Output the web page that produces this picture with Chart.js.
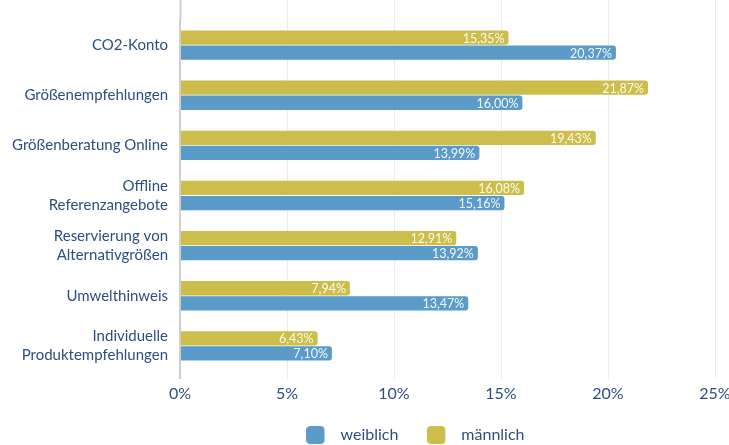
<!DOCTYPE html>
<html><head><meta charset="utf-8">
<script src="https://cdn.jsdelivr.net/npm/chart.js@4/dist/chart.umd.min.js"></script>
<style>html,body{margin:0;padding:0;background:#fff}#wrap{width:729px;height:445px}</style>
</head><body><div id="wrap"><canvas id="c" width="729" height="445"></canvas></div>
<script>
const categories = ["CO2-Konto","Größenempfehlungen","Größenberatung Online",["Offline","Referenzangebote"],["Reservierung von","Alternativgrößen"],"Umwelthinweis",["Individuelle","Produktempfehlungen"]];
const maennlich = [15.35,21.87,19.43,16.08,12.91,7.94,6.43];
const weiblich = [20.37,16.00,13.99,15.16,13.92,13.47,7.10];
const xTicks = [0,5,10,15,20,25];

const FONT = "Lato, 'Noto Sans', sans-serif";
const TXT = '#2d4f80';
const COL_M = '#cdbe4b', COL_W = '#5b9bc9';

function legendSwatch(color){
  const c = document.createElement('canvas');
  c.width = 26; c.height = 18;
  const g = c.getContext('2d');
  g.fillStyle = color;
  g.beginPath();
  if (g.roundRect) g.roundRect(0,0,18,18,4); else g.rect(0,0,18,18);
  g.fill();
  return c;
}

const valueLabels = {
  id:'valueLabels',
  afterDatasetsDraw(chart){
    const ctx = chart.ctx;
    ctx.save();
    ctx.font = "12.5px " + FONT;
    ctx.fillStyle = 'rgba(255,255,255,0.92)';
    ctx.textAlign = 'right';
    ctx.textBaseline = 'middle';
    chart.data.datasets.forEach((ds,i)=>{
      chart.getDatasetMeta(i).data.forEach((el,j)=>{
        const t = ds.data[j].toFixed(2).replace('.',',') + '%';
        ctx.fillText(t, el.x - 4, el.y + 1);
      });
    });
    ctx.restore();
  }
};
const gridTop = {
  id:'gridTop',
  beforeDatasetsDraw(chart){
    const ctx = chart.ctx, xs = chart.scales.x, a = chart.chartArea;
    ctx.save();
    xTicks.forEach((v,i)=>{
      const x = Math.round(xs.getPixelForValue(v)) + 0.5;
      ctx.strokeStyle = i===0 ? '#cfcfcf' : '#ececec';
      ctx.lineWidth = i===0 ? 2 : 1;
      ctx.beginPath(); ctx.moveTo(x,0); ctx.lineTo(x,a.top); ctx.stroke();
    });
    ctx.restore();
  }
};
const layoutTweak = {
  id:'layoutTweak',
  afterLayout(chart){
    const l = chart.legend;
    if (l && !l._shifted){ l.left += 58; l.right += 58; l._shifted = true; }
    chart.scales.x.bottom = chart.height;
  }
};

new Chart(document.getElementById('c'),{
  type:'bar',
  data:{
    labels:categories,
    datasets:[
      {label:'männlich',data:maennlich,backgroundColor:COL_M,borderRadius:3,borderSkipped:'start',barPercentage:0.95,categoryPercentage:0.6,pointStyle:legendSwatch(COL_M)},
      {label:'weiblich',data:weiblich,backgroundColor:COL_W,borderRadius:3,borderSkipped:'start',barPercentage:0.95,categoryPercentage:0.6,pointStyle:legendSwatch(COL_W)}
    ]
  },
  options:{
    indexAxis:'y',
    responsive:false,
    animation:false,
    layout:{padding:{top:20,right:14,left:0,bottom:-8}},
    scales:{
      x:{
        min:0,max:25,
        afterBuildTicks(s){ s.ticks = xTicks.map(v=>({value:v})); },
        afterFit(s){ s.paddingRight = 0; s.paddingLeft = 0; s.height = 27; },
        grid:{color:(c)=> c.index===0 ? '#cfcfcf' : '#ececec', lineWidth:(c)=> c.index===0?2:1, tickLength:8, drawTicks:true},
        border:{display:false},
        ticks:{callback:(v)=>v+'%',color:TXT,font:{size:16,family:FONT},padding:5,maxRotation:0}
      },
      y:{
        afterFit(s){ s.width = 180; s.paddingTop = 0; s.paddingBottom = 0; },
        grid:{display:false,drawTicks:false},
        border:{display:false},
        ticks:{color:TXT,font:{size:15,family:FONT,lineHeight:1.25},padding:12}
      }
    },
    plugins:{
      legend:{
        position:'bottom',
        reverse:true,
        labels:{color:TXT,font:{size:16,family:FONT},usePointStyle:true,pointStyleWidth:26,boxHeight:18,padding:29}
      },
      tooltip:{enabled:false}
    }
  },
  plugins:[valueLabels,gridTop,layoutTweak]
});
</script></body></html>
